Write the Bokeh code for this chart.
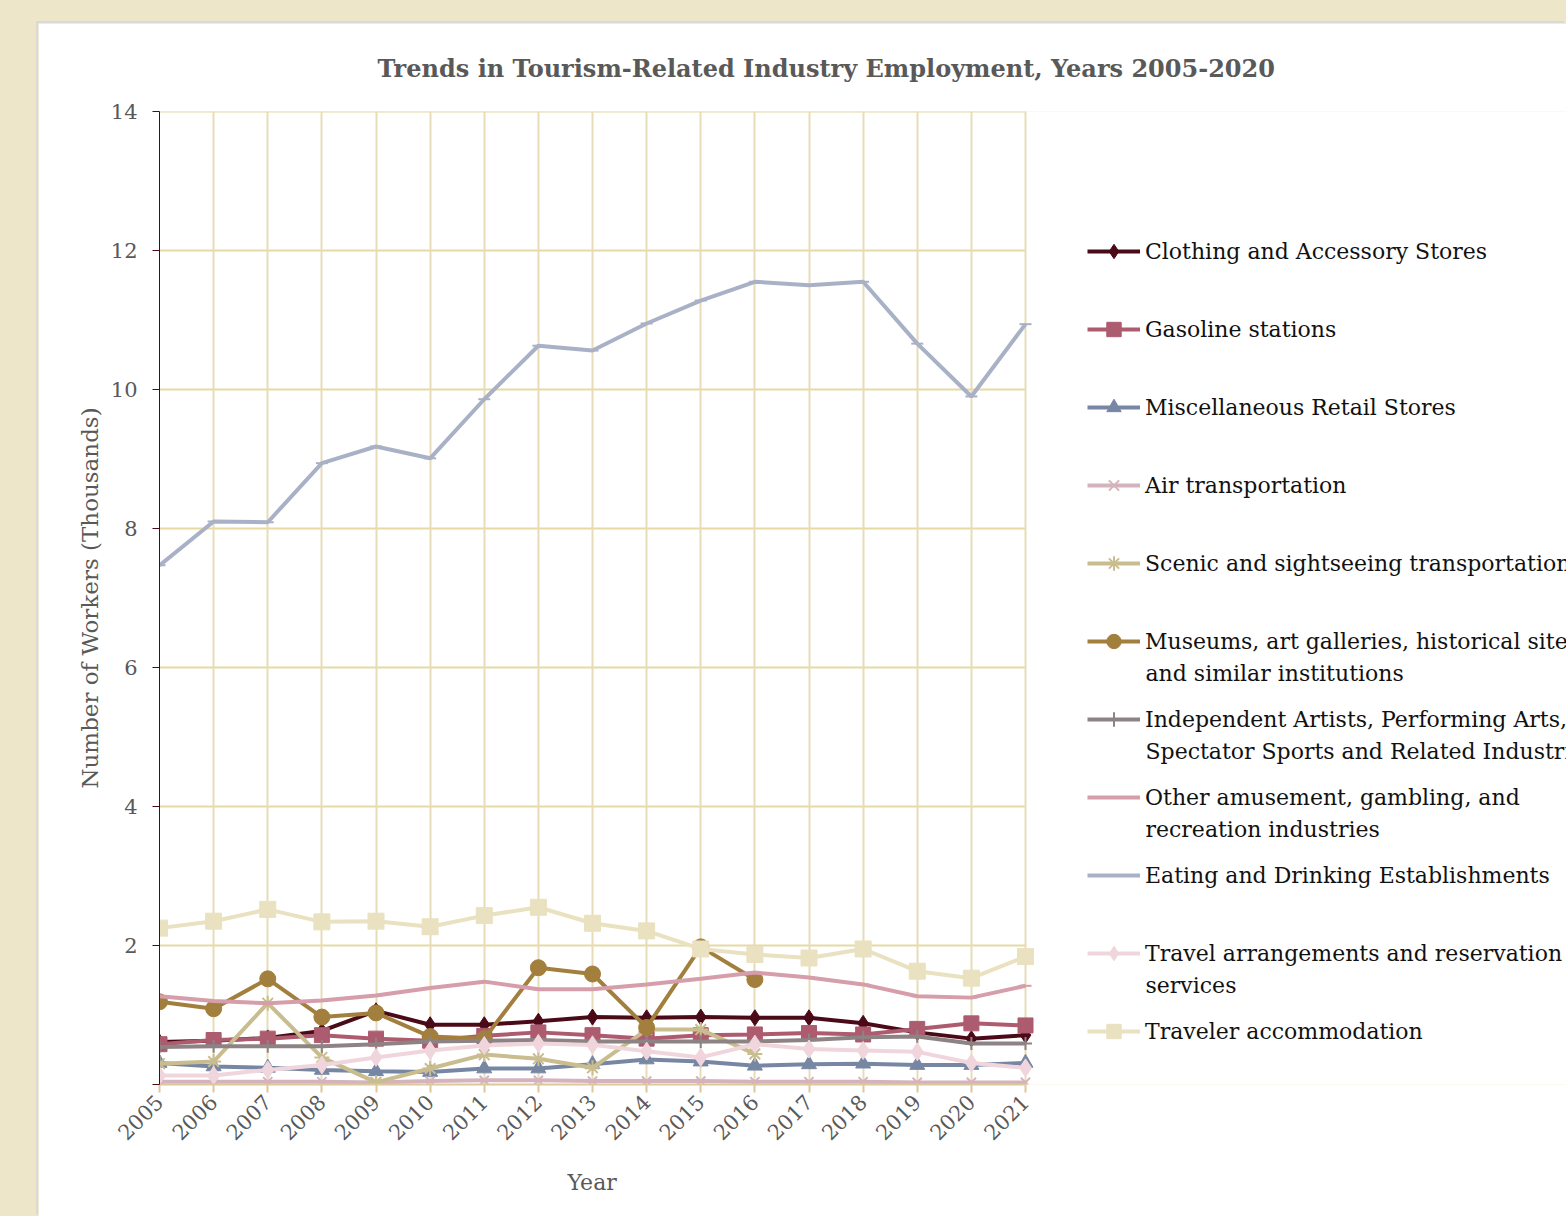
import math
from bokeh.plotting import figure
from bokeh.models import Legend, LegendItem, Label, FixedTicker, Range1d, Title
from bokeh.embed import file_html
from bokeh.resources import INLINE

NaN = float("nan")

years = list(range(2005, 2022))
y_ticks = [0, 2, 4, 6, 8, 10, 12, 14]

clothing = [0.61, 0.63, 0.67, 0.77, 1.06, 0.86, 0.86, 0.91, 0.97, 0.96, 0.97, 0.96, 0.96, 0.88, 0.75, 0.66, 0.71]
gasoline = [0.58, 0.64, 0.66, 0.71, 0.66, 0.63, 0.70, 0.75, 0.71, 0.66, 0.71, 0.72, 0.74, 0.72, 0.80, 0.88, 0.85]
misc_retail = [0.31, 0.26, 0.24, 0.21, 0.19, 0.18, 0.23, 0.23, 0.29, 0.36, 0.33, 0.27, 0.29, 0.30, 0.28, 0.28, 0.31]
air = [0.04, 0.04, 0.04, 0.04, 0.03, 0.05, 0.06, 0.06, 0.05, 0.05, 0.05, 0.04, 0.04, 0.04, 0.03, 0.03, 0.03]
scenic = [0.30, 0.33, 1.17, 0.39, 0.03, 0.23, 0.43, 0.37, 0.24, 0.79, 0.79, 0.44, NaN, NaN, NaN, NaN, NaN]
museums = [1.19, 1.09, 1.52, 0.97, 1.03, 0.69, 0.66, 1.68, 1.59, 0.82, 1.98, 1.51, NaN, NaN, NaN, NaN, NaN]
independent = [0.54, 0.55, 0.55, 0.55, 0.58, 0.62, 0.63, 0.64, 0.62, 0.62, 0.62, 0.62, 0.64, 0.68, 0.69, 0.59, 0.59]
other_amuse = [1.27, 1.20, 1.17, 1.21, 1.28, 1.39, 1.48, 1.37, 1.37, 1.44, 1.52, 1.61, 1.54, 1.44, 1.27, 1.25, 1.42]
eating = [7.47, 8.10, 8.09, 8.94, 9.18, 9.01, 9.86, 10.63, 10.56, 10.95, 11.28, 11.55, 11.50, 11.55, 10.66, 9.90, 10.94]
travel_arr = [0.13, 0.13, 0.21, 0.28, 0.39, 0.49, 0.56, 0.59, 0.57, 0.48, 0.39, 0.58, 0.51, 0.49, 0.47, 0.31, 0.24]
traveler_acc = [2.25, 2.35, 2.52, 2.34, 2.35, 2.27, 2.43, 2.55, 2.32, 2.21, 1.95, 1.87, 1.82, 1.95, 1.63, 1.53, 1.84]

series = [
    (["Clothing and Accessory Stores"], clothing, "#4A0A17", "diamond", 16),
    (["Gasoline stations"], gasoline, "#AD5B6F", "square", 15),
    (["Miscellaneous Retail Stores"], misc_retail, "#7787A3", "triangle", 15),
    (["Air transportation"], air, "#D5B3BD", "x", 13),
    (["Scenic and sightseeing transportation"], scenic, "#C9BD8F", "asterisk", 15),
    (["Museums, art galleries, historical sites,", "and similar institutions"], museums, "#A27F3D", "circle", 16),
    (["Independent Artists, Performing Arts,", "Spectator Sports and Related Industries"], independent, "#8D8284", "cross", 13),
    (["Other amusement, gambling, and", "recreation industries"], other_amuse, "#D69DAA", "dash", 12),
    (["Eating and Drinking Establishments"], eating, "#A9B1C7", "dash", 12),
    (["Travel arrangements and reservation", "services"], travel_arr, "#F1D5DD", "diamond", 18),
    (["Traveler accommodation"], traveler_acc, "#E9E1BF", "square", 16),
]

TXT = "#595959"
FONT = "DejaVu Serif"

# page geometry (px)
PANEL_L, PANEL_T = 38, 23
PAGE_W, PAGE_H = 1566, 1216
FRAME_L, FRAME_T, FRAME_B = 159, 111, 1084
W, H = PAGE_W - PANEL_L, PAGE_H - PANEL_T
ML = FRAME_L - PANEL_L
MT = FRAME_T - PANEL_T
MB = H - (FRAME_B - PANEL_T)
FRAME_W = W - ML
px_per_year = 866 / 16.0
x_end = years[0] + FRAME_W / px_per_year

p = figure(width=W, height=H, output_backend="svg", toolbar_location=None,
           x_range=Range1d(years[0], x_end), y_range=Range1d(y_ticks[0], y_ticks[-1]),
           min_border_left=ML, min_border_right=0, min_border_top=MT, min_border_bottom=MB)
p.margin = (PANEL_T, 0, 0, PANEL_L)
p.styles = {"box-shadow": "-2px -2px 0 0 #D9D9D9"}
p.background_fill_color = "white"
p.border_fill_color = "white"
p.outline_line_color = None

# title
p.title.text = "Trends in Tourism-Related Industry Employment, Years 2005-2020"
p.title.align = "left"
p.title.offset = 377 - FRAME_L
p.title.text_font = FONT
p.title.text_font_size = "24px"
p.title.text_font_style = "bold"
p.title.text_color = TXT
p.title.standoff = 57

# grids: vertical lines at the years, horizontal lines only across the data years
p.xgrid.ticker = FixedTicker(ticks=years)
p.xgrid.grid_line_color = "#E8DCB8"
p.xgrid.grid_line_width = 2
p.ygrid.grid_line_color = None
hg = p.segment(x0=[years[0]] * (len(y_ticks) - 1), x1=[years[-1]] * (len(y_ticks) - 1),
               y0=y_ticks[1:], y1=y_ticks[1:], line_color="#E6D9A2", line_width=2)
hg.level = "underlay"

# axes
xa = p.xaxis[0]
xa.ticker = FixedTicker(ticks=years)
xa.bounds = (years[0], years[-1])
xa.axis_line_color = "#DCC89A"
xa.axis_line_width = 2
xa.major_tick_line_color = "#DCC89A"
xa.major_tick_line_width = 2
xa.major_tick_out = 8
xa.major_tick_in = 0
xa.minor_tick_line_color = None
xa.major_label_orientation = math.pi / 4
xa.major_label_text_font = FONT
xa.major_label_text_font_size = "21px"
xa.major_label_text_color = TXT
xa.major_label_standoff = 6

# x-axis title centred under the data years (not the whole frame)
year_title = Title(text="Year", align="left", offset=593 - FRAME_L - 26,
                   text_font=FONT, text_font_size="22px", text_font_style="normal",
                   text_color=TXT, standoff=36)
p.add_layout(year_title, "below")

ya = p.yaxis[0]
ya.ticker = FixedTicker(ticks=y_ticks)
ya.major_label_overrides = {0: ""}
ya.axis_line_color = "#4A0A17"
ya.axis_line_width = 1
ya.major_tick_line_color = "#4A0A17"
ya.major_tick_out = 7
ya.major_tick_in = 0
ya.minor_tick_line_color = None
ya.major_label_text_font = FONT
ya.major_label_text_font_size = "21px"
ya.major_label_text_color = TXT
ya.major_label_standoff = 15
ya.axis_label = "Number of Workers (Thousands)"
ya.axis_label_text_font = FONT
ya.axis_label_text_font_size = "23px"
ya.axis_label_text_font_style = "normal"
ya.axis_label_text_color = TXT
ya.axis_label_standoff = 5

# series + one small legend per series (first-line centres in page px)
row_y = [251, 329, 407, 485, 563, 641, 719, 797, 875, 953, 1031]
GH = 36
LEG_X = 1087
for (labels, vals, color, marker, msize), yc in zip(series, row_y):
    lr = p.line(years, vals, line_color=color, line_width=4)
    sr = p.scatter(years, vals, marker=marker, size=msize, fill_color=color,
                   line_color=color, line_width=2 if marker in ("x", "asterisk", "cross", "dash") else 1)
    leg = Legend(items=[LegendItem(label=labels[0], renderers=[lr, sr])],
                 location=(LEG_X - FRAME_L, (FRAME_B - yc) - GH / 2),
                 glyph_width=53, glyph_height=GH, label_height=GH, label_standoff=5,
                 padding=0, margin=0, spacing=0,
                 border_line_color=None, background_fill_alpha=0,
                 label_text_font=FONT, label_text_font_size="22px", label_text_color="#111111")
    p.add_layout(leg)
    for k, extra in enumerate(labels[1:], start=1):
        p.add_layout(Label(x=LEG_X + 58 - FRAME_L, y=FRAME_B - (yc + 32 * k), x_units="screen", y_units="screen",
                           text=extra, text_font=FONT, text_font_size="22px",
                           text_color="#111111", text_align="left", text_baseline="middle"))

try:
    from bokeh.core.templates import FILE
    tmpl = FILE.environment.from_string(
        '{% extends "file.html" %}{% block preamble %}<style>html,body{margin:0;padding:0;'
        'background:#EDE6C8;overflow:hidden;}</style>{% endblock %}')
    html = file_html(p, INLINE, template=tmpl)
except Exception:
    html = file_html(p, INLINE)

open("out.html", "w").write(html)
